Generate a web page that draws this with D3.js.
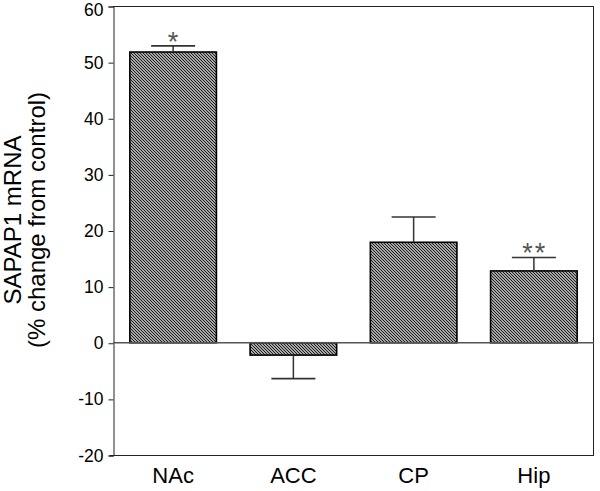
<!DOCTYPE html>
<html>
<head>
<meta charset="utf-8">
<script src="https://cdn.jsdelivr.net/npm/d3@7"></script>
<style>
  html, body { margin: 0; padding: 0; background: #fff; }
  svg { display: block; font-family: "Liberation Sans", Arial, sans-serif; }
</style>
</head>
<body>
<svg id="chart" width="600" height="491"></svg>
<script>
const categories = ["NAc", "ACC", "CP", "Hip"];
const means = [51.8, -2.2, 17.9, 12.8];
const errors = [1.1, 4.2, 4.5, 2.4];
const significance = ["*", "", "", "**"];
const yTicks = [-20, -10, 0, 10, 20, 30, 40, 50, 60];

const svg = d3.select("#chart");
const mLeft = 113, mRight = 594, mTop = 6, mBottom = 455;

const x = d3.scaleBand().domain(categories).range([mLeft, mRight])
  .paddingInner(0.28).paddingOuter(0.14);
const y = d3.scaleLinear().domain([-20, 60]).range([mBottom, mTop]);

// hatch pattern
const defs = svg.append("defs");
const pat = defs.append("pattern").attr("id", "hatch")
  .attr("patternUnits", "userSpaceOnUse").attr("width", 3).attr("height", 3);
pat.append("rect").attr("width", 3).attr("height", 3).attr("fill", "#e0e0e0");
pat.append("path").attr("d", "M0,0 L3,3 M-1,2 L1,4 M2,-1 L4,1")
  .attr("stroke", "#111").attr("stroke-width", 1.05);

// frame
svg.append("line").attr("x1", mLeft).attr("x2", mRight).attr("y1", mTop + 0.5).attr("y2", mTop + 0.5)
  .attr("stroke", "#222").attr("stroke-width", 1);
svg.append("line").attr("x1", mRight - 0.5).attr("x2", mRight - 0.5).attr("y1", mTop).attr("y2", mBottom)
  .attr("stroke", "#222").attr("stroke-width", 1);
svg.append("line").attr("x1", mLeft - 3).attr("x2", mRight).attr("y1", mBottom + 0.5).attr("y2", mBottom + 0.5)
  .attr("stroke", "#222").attr("stroke-width", 1);

// y axis
const yAxis = d3.axisLeft(y).tickValues(yTicks).tickSize(5).tickPadding(5).tickFormat(d => String(d));
const gy = svg.append("g").attr("transform", `translate(${mLeft + 0.5},0.5)`).call(yAxis);
gy.select(".domain").attr("stroke", "#222");
gy.selectAll(".tick line").attr("stroke", "#222");
gy.selectAll(".tick text").attr("font-size", 17.5).attr("fill", "#000")
  .attr("font-family", "Liberation Sans, Arial, sans-serif");
gy.selectAll(".tick text").filter(d => d === 60).attr("dy", "0.5em");

// bars
svg.selectAll("rect.bar").data(categories).enter().append("rect").attr("class", "bar")
  .attr("x", d => x(d))
  .attr("width", x.bandwidth())
  .attr("y", (d, i) => y(Math.max(0, means[i])))
  .attr("height", (d, i) => Math.abs(y(means[i]) - y(0)))
  .attr("fill", "url(#hatch)").attr("stroke", "#000").attr("stroke-width", 1.6);

// zero line
svg.append("line").attr("x1", mLeft).attr("x2", mRight).attr("y1", y(0)).attr("y2", y(0))
  .attr("stroke", "#555").attr("stroke-width", 1.6);

// error bars
const capW = 44;
categories.forEach((c, i) => {
  const cx = x(c) + x.bandwidth() / 2;
  const v = means[i];
  const e = v >= 0 ? v + errors[i] : v - errors[i];
  svg.append("line").attr("x1", cx).attr("x2", cx).attr("y1", y(v)).attr("y2", y(e))
    .attr("stroke", "#333").attr("stroke-width", 1.5);
  svg.append("line").attr("x1", cx - capW / 2).attr("x2", cx + capW / 2).attr("y1", y(e)).attr("y2", y(e))
    .attr("stroke", "#333").attr("stroke-width", 1.6);
  if (significance[i]) {
    svg.append("text").attr("x", cx + 1).attr("y", y(e) + 5)
      .attr("text-anchor", "middle").attr("font-size", 27).attr("fill", "#555")
      .attr("letter-spacing", 2)
      .text(significance[i]);
  }
});

// category labels
svg.selectAll("text.cat").data(categories).enter().append("text").attr("class", "cat")
  .attr("x", d => x(d) + x.bandwidth() / 2)
  .attr("y", 483)
  .attr("text-anchor", "middle").attr("font-size", 22).attr("fill", "#000")
  .text(d => d);

// y title
const ty = svg.append("text").attr("transform", "translate(2,220) rotate(-90)")
  .attr("text-anchor", "middle").attr("font-size", 24).attr("fill", "#000");
ty.append("tspan").attr("x", 0).attr("y", 19).text("SAPAP1 mRNA");
ty.append("tspan").attr("x", 0).attr("y", 43).text("(% change from control)");
</script>
</body>
</html>
